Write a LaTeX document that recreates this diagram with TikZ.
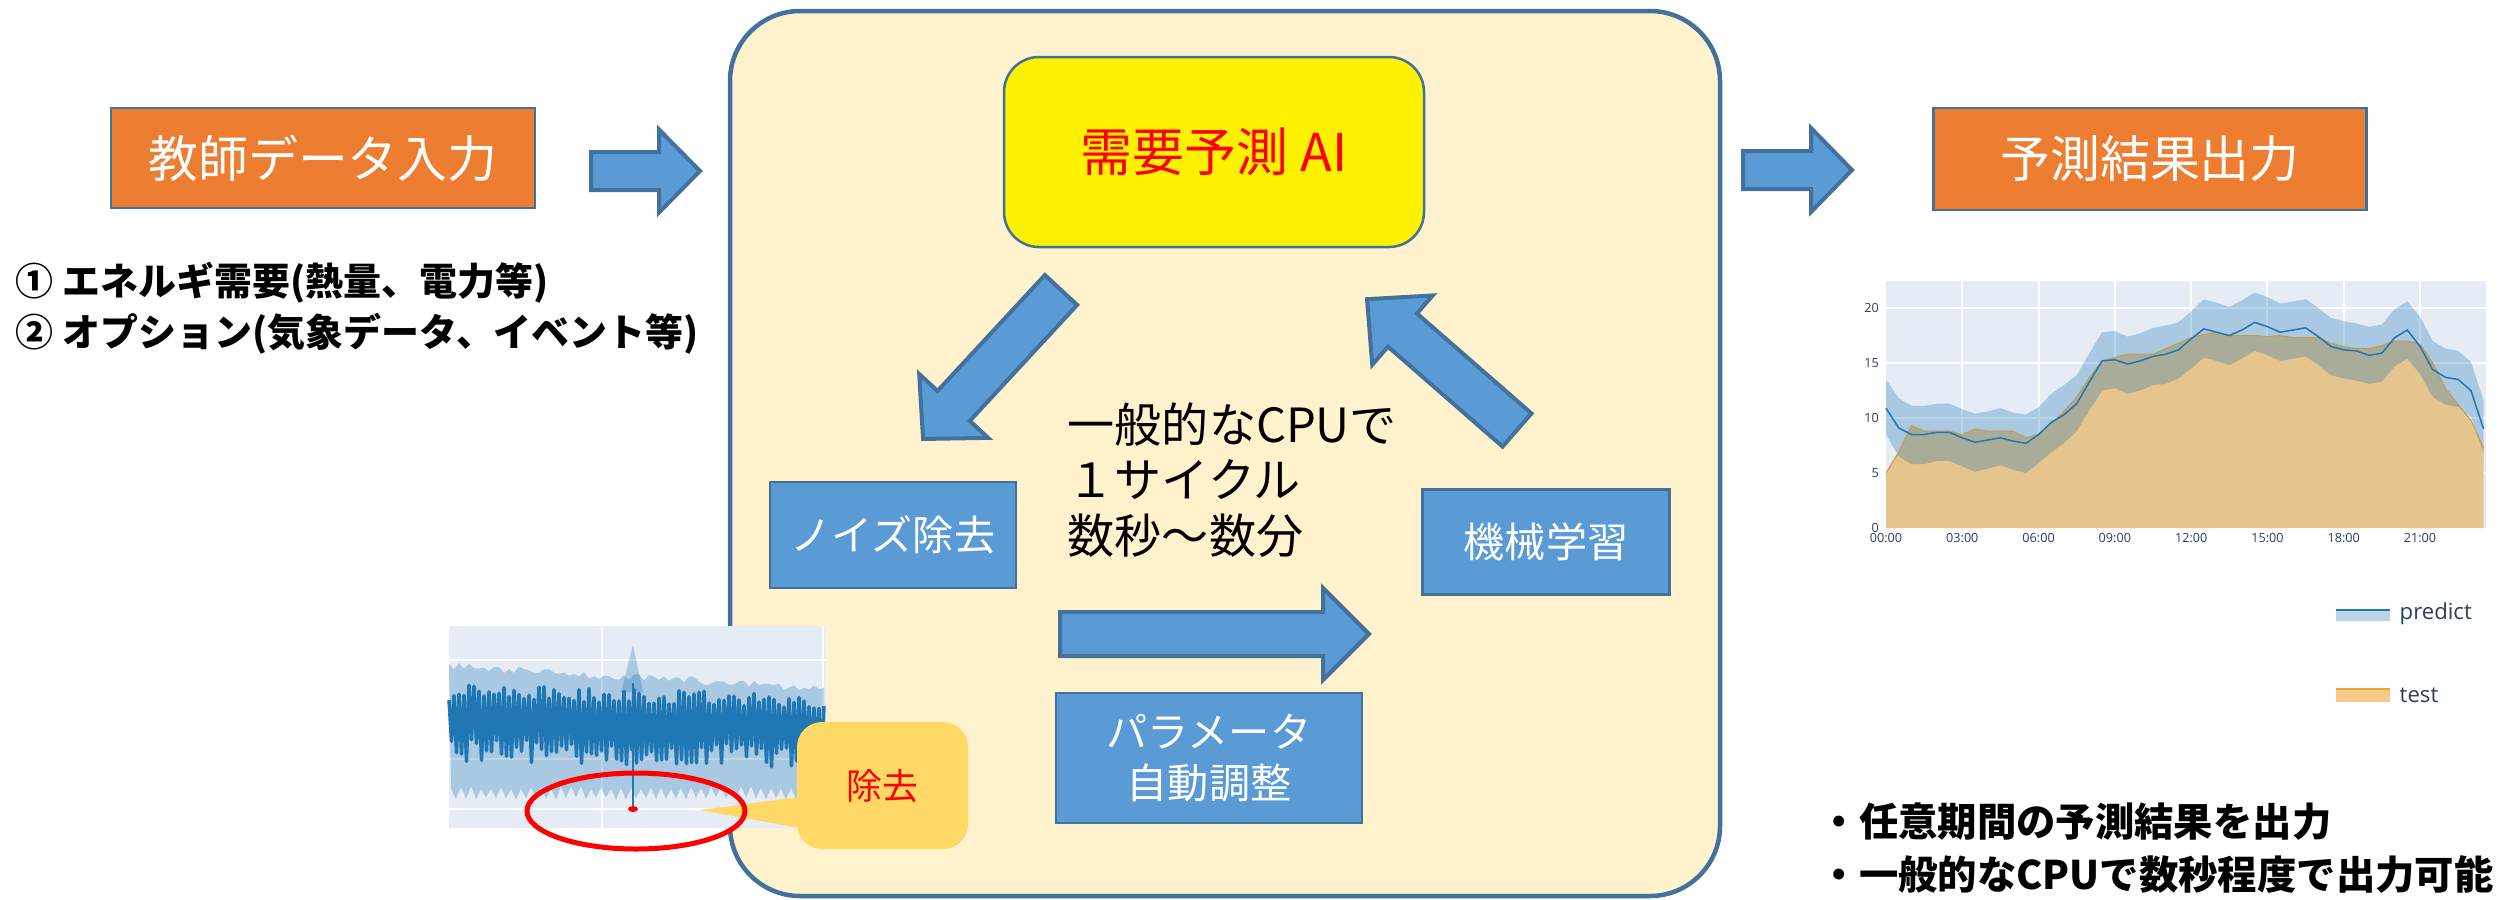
\documentclass[tikz,border=0pt]{standalone}
\usepackage{fontspec}
\setmainfont{Noto Sans CJK JP}
\newfontfamily\osans{Open Sans}
\usetikzlibrary{shapes.geometric}
\definecolor{borderblue}{HTML}{41719C}
\definecolor{orangeF}{HTML}{ED7D31}
\definecolor{boxblue}{HTML}{5B9BD5}
\definecolor{mainbg}{HTML}{FFF2CC}
\definecolor{callcol}{HTML}{FFD966}
\definecolor{plotbg}{HTML}{E5ECF6}
\definecolor{plotblue}{HTML}{1F77B4}
\definecolor{testfill}{HTML}{E6C48E}
\definecolor{testline}{HTML}{C89A48}
\definecolor{legtext}{HTML}{2A3F5F}
\definecolor{legblue}{HTML}{BCD6E9}
\definecolor{legorange}{HTML}{F6CB8A}
\definecolor{legoline}{HTML}{E8A53A}
\newcommand\blockarrow[7]{%
  \begin{scope}[shift={(#1,#2)},rotate=#3]
    \draw[barrow] (0,-#5) -- ({#4-#7},-#5) -- ({#4-#7},-#6) -- (#4,0) -- ({#4-#7},#6) -- ({#4-#7},#5) -- (0,#5) -- cycle;
  \end{scope}}
\tikzset{
  obox/.style={draw=borderblue, line width=0.25mm, fill=orangeF, text=white, inner sep=0pt, font=\fontsize{14.2pt}{17pt}\selectfont},
  bbox/.style={draw=borderblue, line width=0.25mm, fill=boxblue, text=white, inner sep=0pt, align=center, font=\fontsize{11.7pt}{14.5pt}\selectfont},
  aibox/.style={draw=borderblue, line width=0.25mm, fill=yellow, text=red, rounded corners=3.5mm, inner sep=0pt, font=\fontsize{14.8pt}{17pt}\selectfont},
  mainbox/.style={draw=borderblue, line width=0.45mm, fill=mainbg, rounded corners=7mm, inner sep=0pt},
  barrow/.style={draw=borderblue, line width=0.4mm, fill=boxblue, line join=miter},
  callbox/.style={fill=callcol, rounded corners=2.5mm, text=red, inner sep=0pt, font=\fontsize{10.2pt}{12pt}\selectfont},
  plaintext/.style={inner sep=0pt, align=left, text=black},
  tick/.style={inner sep=0pt, text=legtext, font=\osans\fontsize{3.6pt}{4pt}\selectfont},
  legend/.style={inner sep=0pt, anchor=west, text=legtext, font=\osans\fontsize{6.3pt}{7pt}\selectfont},
  band/.style={fill=plotblue, fill opacity=0.3},
}
\begin{document}
\begin{tikzpicture}[x=0.1mm,y=-0.1mm]
\useasboundingbox (0,0) rectangle (2509,899);
\fill[white] (0,0) rectangle (2509,899);

% main rounded box
\node[mainbox, minimum width=99mm, minimum height=88.5mm] (main) at (1225,453.5) {};

% left input
\node[obox, minimum width=42.4mm, minimum height=10mm] (in) at (323,158) {教師データ入力};
\node[plaintext, anchor=west, font=\bfseries\fontsize{10.8pt}{14.5pt}\selectfont] (inputs) at (15,308)
  {① エネルギ需要(熱量、電力等)\\② オプション(気象データ、イベント等)};
\blockarrow{591}{171}{0}{109}{19}{41.5}{41}

% AI box
\node[aibox, minimum width=42mm, minimum height=19mm] (ai) at (1214,152) {需要予測 AI};

% inner boxes
\node[bbox, minimum width=24.6mm, minimum height=10.6mm] (noise) at (893,535) {ノイズ除去};
\node[bbox, minimum width=24.7mm, minimum height=10.5mm] (ml) at (1546,542) {機械学習};
\node[bbox, minimum width=30.6mm, minimum height=13mm] (param) at (1209,758) {パラメータ\\自動調整};

\node[plaintext, anchor=west, font=\fontsize{13.4pt}{15.8pt}\selectfont] (cpu) at (1067,480)
  {一般的なCPUで\\１サイクル\\数秒～数分};

% cycle arrows
\blockarrow{1061}{290}{227.2}{203}{22}{47}{45}
\blockarrow{1517}{430}{138.9}{199}{22}{46}{47}
\blockarrow{1060}{634}{0}{309}{22}{46}{46}

% output
\blockarrow{1743}{170}{0}{109}{19}{42}{41}
\node[obox, minimum width=43.3mm, minimum height=10.2mm] (out) at (2150,159) {予測結果出力};

% noise chart
\fill[plotbg] (449,626) rectangle (826,828);
\draw[white, line width=0.2mm] (602,626) -- (602,828) (823,626) -- (823,828)
  (449,660) -- (826,660) (449,759) -- (826,759) (449,809) -- (826,809);
\pgfmathsetseed{5}
\fill[band] (449,664) \foreach \i in {1,...,75}{ -- ({449+\i*5},{662+0.3*\i+8*rnd}) }
  -- (826,798) \foreach \i in {1,...,75}{ -- ({826-\i*5},{(mod(\i,2)==0 ? 797 : 786)+3*rnd}) } -- cycle;
\fill[band] (621,692) -- (633,645) -- (643,692) -- cycle;
\draw[plotblue, line width=0.35mm, line join=round] (449,700) \foreach \i in {1,...,150}{ -- ({449+\i*2.5},{mod(\i,2)==0 ? (684+0.07*\i+14*rnd) : (738+0.05*\i+24*rnd)}) };
\draw[plotblue, line width=0.2mm] (633,683) -- (633,809);
\fill[red] (633,809) ellipse [x radius=0.5mm, y radius=0.3mm];

% callout
\fill[callcol] (800,797) -- (700,810) -- (800,828) -- cycle;
\node[callbox, minimum width=17.1mm, minimum height=12.7mm] (rm) at (882.5,785.5) {除去};
\node[ellipse, draw=red, line width=0.5mm, minimum width=21.8mm, minimum height=7.6mm, inner sep=0pt] (circ) at (636,811) {};

% result chart
\begin{scope}[shift={(1886,528)}, x=2.543mm, y=1.1mm]
  \fill[plotbg] (0,0) rectangle (23.6,22.5);
  \foreach \h in {3,6,...,21} \draw[white, line width=0.2mm] (\h,0) -- (\h,22.5);
  \foreach \v in {5,10,15,20} \draw[white, line width=0.2mm] (0,\v) -- (23.6,\v);
  \fill[testfill] (0,0) -- plot coordinates {(0,5.0)(0.5,6.9)(1,9.3)(1.5,8.8)(2,8.8)(2.5,8.8)(3,8.5)(3.5,9.0)(4,8.8)(4.5,8.8)(5,8.8)(5.5,8.2)(6,8.5)(6.5,9.5)(7,10.6)(7.5,11.9)(8,13.7)(8.5,15.2)(9,15.5)(9.5,15.8)(10,15.8)(10.5,15.8)(11,16.3)(11.5,16.8)(12,17.3)(12.5,17.6)(13,17.8)(13.5,17.5)(14,17.5)(14.5,17.5)(15,17.4)(15.5,17.5)(16,17.3)(16.5,17.3)(17,17.3)(17.5,16.8)(18,16.5)(18.5,16.3)(19,16.3)(19.5,16.6)(20,17.0)(20.5,17.0)(21,16.7)(21.5,15.0)(22,12.7)(22.5,11.2)(23,9.8)(23.5,7.3)} -- (23.5,0) -- cycle;
  \fill[band] plot coordinates {(0,13.5)(0.5,11.8)(1,11.1)(1.5,11.1)(2,11.3)(2.5,11.3)(3,10.8)(3.5,10.4)(4,10.6)(4.5,10.9)(5,10.5)(5.5,10.3)(6,11.0)(6.5,12.2)(7,13.0)(7.5,13.9)(8,15.9)(8.5,17.8)(9,17.9)(9.5,17.4)(10,17.7)(10.5,18.2)(11,18.4)(11.5,18.7)(12,19.7)(12.5,20.8)(13,20.5)(13.5,20.1)(14,20.7)(14.5,21.4)(15,21.0)(15.5,20.4)(16,20.6)(16.5,20.8)(17,20.0)(17.5,19.1)(18,18.8)(18.5,18.6)(19,18.3)(19.5,18.5)(20,19.9)(20.5,20.6)(21,19.2)(21.5,17.0)(22,16.3)(22.5,16.1)(23,15.1)(23.5,11.6)(23.5,6.8)(23,10.1)(22.5,11.0)(22,11.2)(21.5,11.9)(21,14.0)(20.5,15.4)(20,14.7)(19.5,13.3)(19,13.1)(18.5,13.4)(18,13.6)(17.5,13.9)(17,14.8)(16.5,15.6)(16,15.4)(15.5,15.2)(15,15.7)(14.5,16.1)(14,15.4)(13.5,14.8)(13,15.2)(12.5,15.5)(12,14.5)(11.5,13.6)(11,13.1)(10.5,13.0)(10,12.5)(9.5,12.2)(9,12.7)(8.5,12.5)(8,10.7)(7.5,8.8)(7,7.7)(6.5,6.9)(6,5.9)(5.5,5.0)(5,5.3)(4.5,5.7)(4,5.4)(3.5,5.1)(3,5.6)(2.5,6.1)(2,6.1)(1.5,5.8)(1,5.8)(0.5,6.5)(0,8.5)} -- cycle;
  \draw[testline, line width=0.1mm] plot coordinates {(0,5.0)(0.5,6.9)(1,9.3)(1.5,8.8)(2,8.8)(2.5,8.8)(3,8.5)(3.5,9.0)(4,8.8)(4.5,8.8)(5,8.8)(5.5,8.2)(6,8.5)(6.5,9.5)(7,10.6)(7.5,11.9)(8,13.7)(8.5,15.2)(9,15.5)(9.5,15.8)(10,15.8)(10.5,15.8)(11,16.3)(11.5,16.8)(12,17.3)(12.5,17.6)(13,17.8)(13.5,17.5)(14,17.5)(14.5,17.5)(15,17.4)(15.5,17.5)(16,17.3)(16.5,17.3)(17,17.3)(17.5,16.8)(18,16.5)(18.5,16.3)(19,16.3)(19.5,16.6)(20,17.0)(20.5,17.0)(21,16.7)(21.5,15.0)(22,12.7)(22.5,11.2)(23,9.8)(23.5,7.3)};
  \draw[plotblue, line width=0.15mm] plot coordinates {(0,10.9)(0.5,9.1)(1,8.5)(1.5,8.5)(2,8.7)(2.5,8.7)(3,8.2)(3.5,7.8)(4,8.0)(4.5,8.2)(5,7.9)(5.5,7.7)(6,8.5)(6.5,9.6)(7,10.3)(7.5,11.3)(8,13.3)(8.5,15.2)(9,15.3)(9.5,14.9)(10,15.2)(10.5,15.6)(11,15.8)(11.5,16.2)(12,17.2)(12.5,18.1)(13,17.8)(13.5,17.5)(14,18.0)(14.5,18.7)(15,18.3)(15.5,17.8)(16,18.0)(16.5,18.2)(17,17.4)(17.5,16.5)(18,16.2)(18.5,16.1)(19,15.7)(19.5,15.9)(20,17.3)(20.5,18.0)(21,16.5)(21.5,14.4)(22,13.7)(22.5,13.5)(23,12.5)(23.5,9.0)};
  \foreach \v in {0,5,10,15,20} \node[tick, anchor=east] at (-0.25,\v) {\v};
  \foreach \h/\t in {0/00:00,3/03:00,6/06:00,9/09:00,12/12:00,15/15:00,18/18:00,21/21:00}
    \node[tick, anchor=north] at (\h,-0.4) {\t};
\end{scope}

% legend
\fill[legblue] (2336,609) rectangle (2390,621);
\draw[plotblue, line width=0.2mm] (2336,610) -- (2390,610);
\node[legend] (lp) at (2399,614) {predict};
\fill[legorange] (2336,688) rectangle (2390,702);
\draw[legoline, line width=0.2mm] (2336,689) -- (2390,689);
\node[legend] (lt) at (2399,695) {test};

% notes
\node[plaintext, anchor=west, font=\bfseries\fontsize{11.2pt}{15.1pt}\selectfont] (notes) at (1819,848)
  {・任意期間の予測結果を出力\\・一般的なCPUで数秒程度で出力可能};
\end{tikzpicture}
\end{document}
